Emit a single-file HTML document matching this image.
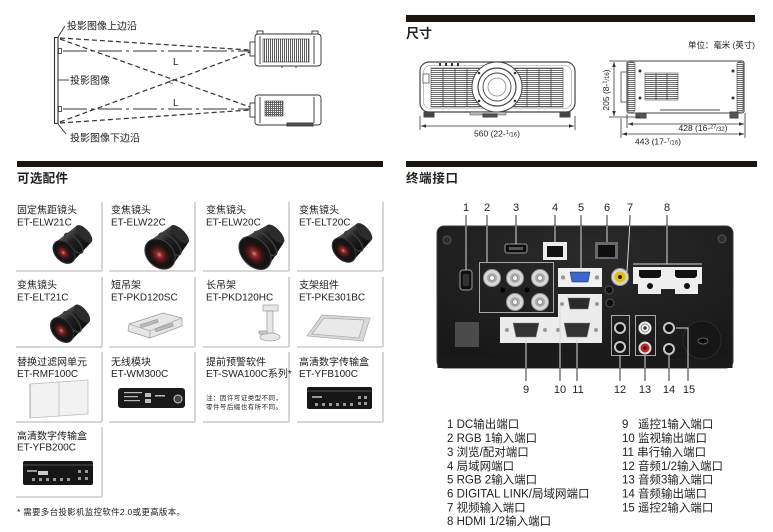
<!DOCTYPE html>
<html><head><meta charset="utf-8">
<style>
html,body{margin:0;padding:0;background:#fff;}
svg{display:block;}
text{font-family:"Liberation Sans","Noto Sans CJK SC",sans-serif;fill:#222;}
</style></head><body>
<svg width="773" height="532" viewBox="0 0 773 532" xmlns="http://www.w3.org/2000/svg">
<defs>
 <pattern id="hl" width="4" height="2" patternUnits="userSpaceOnUse"><rect width="4" height="2" fill="#fff"/><rect width="4" height="1" fill="#6a6a6a"/></pattern>
 <pattern id="vl" width="2" height="4" patternUnits="userSpaceOnUse"><rect width="2" height="4" fill="#fff"/><rect width="1" height="4" fill="#5a5a5a"/></pattern>
 <pattern id="grid" width="2" height="2" patternUnits="userSpaceOnUse"><rect width="2" height="2" fill="#fff"/><rect width="1" height="2" fill="#666"/><rect width="2" height="1" fill="#666"/></pattern>
 <radialGradient id="lensred" cx="0.5" cy="0.5" r="0.5"><stop offset="0" stop-color="#e08080"/><stop offset="0.25" stop-color="#8a2a2a"/><stop offset="0.65" stop-color="#3a1414"/><stop offset="1" stop-color="#121212"/></radialGradient>
 <linearGradient id="barrel" x1="0" y1="0" x2="0" y2="1"><stop offset="0" stop-color="#555"/><stop offset="0.35" stop-color="#222"/><stop offset="1" stop-color="#0c0c0c"/></linearGradient>
 <radialGradient id="panelg" cx="0.5" cy="0.2" r="0.8"><stop offset="0" stop-color="#2a2a2a"/><stop offset="1" stop-color="#181818"/></radialGradient>
</defs>

<!-- ================= LEFT THROW DIAGRAM ================= -->
<g stroke="#333" fill="none">
 <rect x="54.5" y="37.5" width="3.5" height="86" stroke-width="1.1" fill="#fff"/>
 <line x1="58" y1="37" x2="65" y2="26" stroke-width="0.9"/>
 <line x1="58" y1="80" x2="69" y2="80" stroke-width="0.9"/>
 <line x1="58" y1="124" x2="66" y2="134" stroke-width="0.9"/>
 <!-- dashed rays -->
 <g stroke-dasharray="5 3" stroke-width="1.2">
  <line x1="60" y1="38" x2="250" y2="50"/>
  <line x1="60" y1="39" x2="250" y2="107"/>
  <line x1="60" y1="122" x2="250" y2="52"/>
  <line x1="60" y1="123" x2="250" y2="110"/>
 </g>
 <g stroke-dasharray="24 4 3 4" stroke-width="1">
  <line x1="63" y1="51" x2="250" y2="51"/>
  <line x1="63" y1="109" x2="250" y2="109"/>
 </g>
 <rect x="58.5" y="48.5" width="3" height="5" stroke-width="0.8"/>
 <rect x="58.5" y="106.5" width="3" height="5" stroke-width="0.8"/>
</g>
<text x="173" y="65" font-size="10">L</text>
<text x="173" y="106" font-size="10">L</text>
<text x="168" y="85" font-size="9">&lt;</text>
<text x="67" y="29.5" font-size="10" textLength="70">投影图像上边沿</text>
<text x="70" y="84" font-size="10" textLength="40">投影图像</text>
<text x="70" y="141.5" font-size="10" textLength="70">投影图像下边沿</text>

<!-- top projector -->
<g stroke="#333" stroke-width="0.9" fill="#fff">
 <rect x="255" y="34" width="66" height="32" rx="3"/>
 <rect x="250" y="42" width="5" height="14"/>
 <rect x="257" y="31" width="6" height="3"/>
 <rect x="312" y="31" width="6" height="3"/>
 <rect x="263" y="39" width="46" height="23" fill="url(#vl)" stroke-width="0.6"/>
 <line x1="260" y1="36" x2="260" y2="64"/>
 <line x1="314" y1="36" x2="314" y2="64"/>
 <line x1="282" y1="66" x2="282" y2="68"/><line x1="296" y1="66" x2="296" y2="68"/>
</g>
<!-- bottom projector -->
<g stroke="#333" stroke-width="0.9" fill="#fff">
 <rect x="255" y="95" width="66" height="30" rx="3"/>
 <rect x="250" y="103" width="5" height="14"/>
 <rect x="265" y="101" width="18" height="15" fill="url(#grid)" stroke-width="0.6"/>
 <line x1="260" y1="97" x2="260" y2="123"/>
 <line x1="314" y1="97" x2="314" y2="123"/>
 <rect x="287" y="123" width="26" height="3" fill="#555"/>
</g>

<!-- bars -->
<rect x="17" y="161" width="366" height="6" fill="#1a1411"/>
<rect x="406" y="15" width="349" height="7" fill="#1a1411"/>
<rect x="406" y="161" width="351" height="6" fill="#1a1411"/>

<!-- ================= SIZE SECTION ================= -->
<text x="406" y="38" font-size="13" font-weight="bold" textLength="26">尺寸</text>
<text x="688" y="48" font-size="8.5" textLength="67" fill="#333">单位：毫米 (英寸)</text>

<!-- front view -->
<g stroke="#444" fill="#fff">
 <rect x="420" y="62" width="155" height="50" rx="9" stroke-width="1.2"/>
 <rect x="423.5" y="65.5" width="148" height="43" rx="7" stroke="#999" stroke-width="0.6" fill="none"/>
 <rect x="431" y="68" width="132" height="39" fill="url(#hl)" stroke-width="0.6"/>
 <g stroke="#444" stroke-width="0.8">
  <line x1="443" y1="68" x2="443" y2="107"/><line x1="455" y1="68" x2="455" y2="107"/><line x1="467" y1="68" x2="467" y2="107"/><line x1="479" y1="68" x2="479" y2="107"/>
  <line x1="515" y1="68" x2="515" y2="107"/><line x1="527" y1="68" x2="527" y2="107"/><line x1="539" y1="68" x2="539" y2="107"/><line x1="551" y1="68" x2="551" y2="107"/>
 </g>
 <rect x="423" y="74" width="6" height="9" stroke-width="0.7"/>
 <circle cx="497" cy="87" r="25" stroke-width="1"/>
 <circle cx="497" cy="87" r="19" stroke-width="1.2"/>
 <circle cx="497" cy="87" r="14" stroke-width="0.9"/>
 <circle cx="497" cy="87" r="9" stroke="#888" stroke-width="0.8"/>
 <rect x="424" y="112" width="10" height="5" fill="#444"/>
 <rect x="560" y="112" width="10" height="5" fill="#444"/>
 <rect x="470" y="112" width="36" height="3" fill="#bbb" stroke-width="0.5"/>
 <rect x="483" y="114" width="14" height="3" fill="#555"/>
</g>
<g fill="#333"><rect x="439" y="63" width="2" height="3"/><rect x="445" y="63" width="2" height="3"/><rect x="451" y="63" width="2" height="3"/><rect x="457" y="63" width="2" height="3"/>
 <circle cx="479" cy="73" r="1.3"/><circle cx="515" cy="73" r="1.3"/><circle cx="479" cy="101" r="1.3"/><circle cx="515" cy="101" r="1.3"/></g>
<g stroke="#333" stroke-width="0.8">
 <line x1="420" y1="116" x2="420" y2="130"/><line x1="575" y1="116" x2="575" y2="130"/>
 <line x1="421" y1="126" x2="574" y2="126"/>
</g>
<path d="M421,126 l5,-1.8 v3.6z M574,126 l-5,-1.8 v3.6z" fill="#333"/>
<text x="497" y="136.5" font-size="8.5" text-anchor="middle" fill="#333">560 (22-<tspan font-size="5.5" dy="-2.5">1</tspan><tspan font-size="6" dy="2.5">/16</tspan>)</text>

<!-- side view -->
<g stroke="#444" fill="#fff">
 <rect x="621" y="72" width="6" height="30" stroke-width="0.8"/>
 <rect x="627" y="61" width="117" height="52" rx="2" stroke-width="1.1"/>
 <rect x="628" y="62" width="7" height="50" rx="2" fill="url(#hl)" stroke-width="0.6"/>
 <rect x="737" y="62" width="6" height="50" rx="2" fill="url(#hl)" stroke-width="0.6"/>
 <rect x="645" y="73" width="33" height="27" fill="url(#hl)" stroke-width="0.6"/>
 <line x1="656" y1="73" x2="656" y2="100" stroke-width="0.8"/><line x1="667" y1="73" x2="667" y2="100" stroke-width="0.8"/>
 <rect x="636" y="113" width="10" height="5" fill="#555"/>
 <rect x="730" y="112" width="8" height="6" fill="#555"/>
 <line x1="660" y1="110" x2="720" y2="110" stroke="#888" stroke-width="1.5"/>
</g>
<g fill="#333"><circle cx="640" cy="71" r="1.5"/><circle cx="640" cy="98" r="1.5"/><circle cx="733" cy="71" r="1.5"/><circle cx="733" cy="98" r="1.5"/></g>
<g stroke="#333" stroke-width="0.8">
 <line x1="609" y1="61" x2="627" y2="61"/><line x1="609" y1="117" x2="640" y2="117"/>
 <line x1="614" y1="62" x2="614" y2="116"/>
 <line x1="627" y1="114" x2="627" y2="128"/><line x1="745" y1="113" x2="745" y2="138"/>
 <line x1="621" y1="118" x2="621" y2="138"/>
 <line x1="628" y1="124" x2="744" y2="124"/>
 <line x1="622" y1="134" x2="744" y2="134"/>
</g>
<path d="M614,62 l-1.8,5 h3.6z M614,116 l-1.8,-5 h3.6z M628,124 l5,-1.8 v3.6z M744,124 l-5,-1.8 v3.6z M622,134 l5,-1.8 v3.6z M744,134 l-5,-1.8 v3.6z" fill="#333"/>
<text x="0" y="0" font-size="8.5" text-anchor="middle" fill="#333" transform="translate(609,90) rotate(-90)">205 (8-<tspan font-size="5.5" dy="-2.5">1</tspan><tspan font-size="6" dy="2.5">/16</tspan>)</text>
<text x="703" y="131" font-size="8.5" text-anchor="middle" fill="#333">428 (16-<tspan font-size="5.5" dy="-2.5">27</tspan><tspan font-size="6" dy="2.5">/32</tspan>)</text>
<text x="658" y="144.5" font-size="8.5" text-anchor="middle" fill="#333">443 (17-<tspan font-size="5.5" dy="-2.5">7</tspan><tspan font-size="6" dy="2.5">/16</tspan>)</text>

<!-- ================= ACCESSORIES ================= -->
<text x="17" y="182.6" font-size="12.5" font-weight="bold" textLength="51">可选配件</text>

<g stroke="#cbcbcb" stroke-width="1.6">
 <line x1="102" y1="202" x2="102" y2="271"/><line x1="195" y1="202" x2="195" y2="271"/><line x1="289" y1="202" x2="289" y2="271"/><line x1="383" y1="202" x2="383" y2="271"/>
 <line x1="16" y1="271" x2="102" y2="271"/><line x1="109" y1="271" x2="195" y2="271"/><line x1="203" y1="271" x2="289" y2="271"/><line x1="297" y1="271" x2="383" y2="271"/>
 <line x1="102" y1="277" x2="102" y2="347"/><line x1="195" y1="277" x2="195" y2="347"/><line x1="289" y1="277" x2="289" y2="347"/><line x1="383" y1="277" x2="383" y2="347"/>
 <line x1="16" y1="347" x2="102" y2="347"/><line x1="109" y1="347" x2="195" y2="347"/><line x1="203" y1="347" x2="289" y2="347"/><line x1="297" y1="347" x2="383" y2="347"/>
 <line x1="102" y1="352" x2="102" y2="422"/><line x1="195" y1="352" x2="195" y2="422"/><line x1="289" y1="352" x2="289" y2="422"/><line x1="383" y1="352" x2="383" y2="422"/>
 <line x1="16" y1="422" x2="102" y2="422"/><line x1="109" y1="422" x2="195" y2="422"/><line x1="203" y1="422" x2="289" y2="422"/><line x1="297" y1="422" x2="383" y2="422"/>
 <line x1="102" y1="427" x2="102" y2="497"/>
 <line x1="16" y1="497" x2="102" y2="497"/>
</g>

<g font-size="10">
 <text x="17" y="213.7">固定焦距镜头</text><text x="17" y="225.7">ET-ELW21C</text>
 <text x="111" y="213.7">变焦镜头</text><text x="111" y="225.7">ET-ELW22C</text>
 <text x="206" y="213.7">变焦镜头</text><text x="206" y="225.7">ET-ELW20C</text>
 <text x="299" y="213.7">变焦镜头</text><text x="299" y="225.7">ET-ELT20C</text>
 <text x="17" y="288.7">变焦镜头</text><text x="17" y="300.7">ET-ELT21C</text>
 <text x="111" y="288.7">短吊架</text><text x="111" y="300.7">ET-PKD120SC</text>
 <text x="206" y="288.7">长吊架</text><text x="206" y="300.7">ET-PKD120HC</text>
 <text x="299" y="288.7">支架组件</text><text x="299" y="300.7">ET-PKE301BC</text>
 <text x="17" y="365.7">替换过滤网单元</text><text x="17" y="377.2">ET-RMF100C</text>
 <text x="111" y="365.7">无线模块</text><text x="111" y="377.2">ET-WM300C</text>
 <text x="206" y="365.7">提前预警软件</text><text x="206" y="377.2">ET-SWA100C系列*</text>
 <text x="299" y="365.7">高清数字传输盒</text><text x="299" y="377.2">ET-YFB100C</text>
 <text x="17" y="439.7">高清数字传输盒</text><text x="17" y="450.7">ET-YFB200C</text>
</g>
<text x="206" y="400" font-size="6.5" fill="#555" textLength="76">注：因许可证类型不同，</text>
<text x="206" y="409" font-size="6.5" fill="#555" textLength="76">零件号后缀也有所不同。</text>
<text x="17" y="515" font-size="8.5" fill="#333" textLength="168">* 需要多台投影机监控软件2.0或更高版本。</text>

<!-- lenses -->
<g transform="translate(64,252) rotate(-42)">
 <path d="M0,-13 L27,-11 L27,11 L0,13 Z" fill="url(#barrel)"/>
 <ellipse cx="27" cy="0" rx="5" ry="11" fill="#2c2c2c"/>
 <ellipse cx="13" cy="0" rx="5" ry="12.5" fill="none" stroke="#3c3c3c" stroke-width="1.5"/>
 <ellipse cx="0" cy="0" rx="9" ry="13" fill="#151515" stroke="#333"/>
 <ellipse cx="-1" cy="0" rx="6.5" ry="9.5" fill="url(#lensred)"/>
</g>
<g transform="translate(160,254) rotate(-45)">
 <path d="M0,-17 L28,-12 L28,12 L0,17 Z" fill="url(#barrel)"/>
 <ellipse cx="28" cy="0" rx="5" ry="12" fill="#2c2c2c"/>
 <ellipse cx="14" cy="0" rx="6" ry="14.5" fill="none" stroke="#3c3c3c" stroke-width="1.5"/>
 <ellipse cx="0" cy="0" rx="13" ry="17" fill="#151515" stroke="#444"/>
 <ellipse cx="-1" cy="0" rx="10" ry="13" fill="url(#lensred)"/>
</g>
<g transform="translate(255,253) rotate(-43)">
 <path d="M0,-19 L28,-12 L28,12 L0,19 Z" fill="url(#barrel)"/>
 <ellipse cx="28" cy="0" rx="5" ry="12" fill="#2c2c2c"/>
 <ellipse cx="14" cy="0" rx="6" ry="15.5" fill="none" stroke="#3c3c3c" stroke-width="1.5"/>
 <ellipse cx="0" cy="0" rx="13" ry="19" fill="#151515" stroke="#444"/>
 <ellipse cx="-1" cy="0" rx="10" ry="14" fill="url(#lensred)"/>
</g>
<g transform="translate(344,250) rotate(-42)">
 <path d="M0,-14 L27,-11 L27,11 L0,14 Z" fill="url(#barrel)"/>
 <ellipse cx="27" cy="0" rx="5" ry="11" fill="#2c2c2c"/>
 <ellipse cx="13" cy="0" rx="5" ry="12.5" fill="none" stroke="#3c3c3c" stroke-width="1.5"/>
 <ellipse cx="0" cy="0" rx="9.5" ry="14" fill="#151515" stroke="#333"/>
 <ellipse cx="-1" cy="0" rx="7" ry="10" fill="url(#lensred)"/>
</g>
<g transform="translate(62,330) rotate(-39)">
 <path d="M0,-14 L26,-11 L26,11 L0,14 Z" fill="url(#barrel)"/>
 <ellipse cx="26" cy="0" rx="5" ry="11" fill="#2c2c2c"/>
 <ellipse cx="13" cy="0" rx="5" ry="12.5" fill="none" stroke="#3c3c3c" stroke-width="1.5"/>
 <ellipse cx="0" cy="0" rx="9.5" ry="14" fill="#151515" stroke="#333"/>
 <ellipse cx="-1" cy="0" rx="7" ry="10" fill="url(#lensred)"/>
</g>
<rect x="40" y="346" width="60" height="10" fill="#fff"/>
<line x1="16" y1="347" x2="102" y2="347" stroke="#cbcbcb" stroke-width="1.6"/>

<!-- short mount -->
<g stroke="#999" stroke-width="0.7">
 <path d="M129,324 L163,313 L182,318 L182,326 L150,338 L128,331 Z" fill="#e6e6e6"/>
 <path d="M129,324 L150,331 L182,318" fill="none" stroke="#aaa"/>
 <path d="M150,331 L150,338" fill="none"/>
 <rect x="140" y="322" width="18" height="3" fill="#bbb" transform="rotate(-18 149 323)"/>
 <rect x="155" y="326" width="18" height="3" fill="#bbb" transform="rotate(-18 164 327)"/>
</g>
<!-- long mount -->
<g stroke="#999" stroke-width="0.7" fill="#e8e8e8">
 <rect x="263" y="305" width="15" height="6"/>
 <rect x="267" y="311" width="6" height="24"/>
 <ellipse cx="270" cy="337" rx="10" ry="4"/>
 <rect x="259" y="331" width="8" height="3" fill="#ccc"/>
</g>
<!-- bracket plate -->
<g stroke="#aaa" stroke-width="0.7">
 <path d="M307,336 L322,315 L370,318 L363,341 Z" fill="#d9d9d9"/>
 <path d="M312,334 L324,318 L364,320 L359,338 Z" fill="#e9e9e9"/>
</g>
<!-- filter -->
<g stroke="#bbb" stroke-width="0.8">
 <path d="M30,384 L88,380 L88,414 L30,418 Z" fill="#f2f2f2"/>
 <line x1="59" y1="382" x2="59" y2="416"/>
 <path d="M30,384 L30,418" stroke="#999"/>
</g>
<!-- wireless module -->
<rect x="118" y="388" width="67" height="20" rx="3" fill="#1a1a1a"/>
<g fill="#bbb"><rect x="124" y="392" width="18" height="1.2"/><rect x="124" y="396" width="14" height="1.2"/><rect x="124" y="400" width="16" height="1.2"/><rect x="145" y="393" width="6" height="4"/><rect x="145" y="399" width="6" height="4"/><rect x="155" y="395" width="10" height="1.5"/></g>
<circle cx="178" cy="399" r="4" fill="#444" stroke="#ccc" stroke-width="1"/>
<!-- YFB100C -->
<rect x="307" y="387" width="65" height="22" rx="2" fill="#161616"/>
<rect x="307" y="390" width="65" height="2" fill="#333"/>
<g fill="#999"><rect x="312" y="396" width="10" height="2"/><rect x="315" y="403" width="3" height="3"/><rect x="322" y="403" width="3" height="3"/><rect x="329" y="403" width="3" height="3"/><rect x="336" y="403" width="3" height="3"/><rect x="343" y="403" width="3" height="3"/><rect x="350" y="403" width="3" height="3"/><rect x="358" y="396" width="3" height="3"/><rect x="364" y="396" width="3" height="3"/><rect x="358" y="402" width="3" height="3"/><rect x="364" y="402" width="3" height="3"/></g>
<!-- YFB200C -->
<rect x="23" y="461" width="70" height="24" rx="2" fill="#161616"/>
<rect x="23" y="464" width="70" height="2" fill="#333"/>
<g fill="#999"><rect x="27" y="470" width="10" height="2"/><rect x="38" y="471" width="10" height="4" fill="#ccc"/><rect x="32" y="478" width="3" height="3"/><rect x="39" y="478" width="3" height="3"/><rect x="46" y="478" width="3" height="3"/><rect x="53" y="478" width="3" height="3"/><rect x="60" y="478" width="3" height="3"/><rect x="67" y="478" width="3" height="3"/><rect x="78" y="470" width="3" height="3"/><rect x="85" y="470" width="3" height="3"/><rect x="78" y="477" width="3" height="3"/><rect x="85" y="477" width="3" height="3"/></g>

<!-- ================= TERMINALS ================= -->
<text x="406" y="182.6" font-size="12.5" font-weight="bold" textLength="52">终端接口</text>

<rect x="437" y="226" width="296" height="142" rx="7" fill="url(#panelg)" stroke="#3a3a3a" stroke-width="1"/>
<rect x="437.5" y="358" width="295" height="10" fill="#1a1a1a"/>
<circle cx="447" cy="240" r="4" fill="#2e2e2e" stroke="#555"/>
<circle cx="722" cy="239" r="4" fill="#2e2e2e" stroke="#555"/>

<!-- port 1 -->
<rect x="460" y="270" width="12" height="20" rx="3" fill="#111" stroke="#888" stroke-width="1.2"/>
<rect x="463" y="274" width="6" height="12" rx="1" fill="#333"/>
<!-- BNC box -->
<rect x="479.5" y="262.5" width="74" height="50" fill="none" stroke="#a8a8a8" stroke-width="1"/>
<g>
 <circle cx="492" cy="278" r="8.5" fill="#d8d8d8" stroke="#999"/><circle cx="492" cy="278" r="5" fill="#aaa"/><circle cx="492" cy="278" r="2.5" fill="#f4f4f4" stroke="#777" stroke-width="0.6"/>
 <circle cx="515" cy="278" r="8.5" fill="#d8d8d8" stroke="#999"/><circle cx="515" cy="278" r="5" fill="#aaa"/><circle cx="515" cy="278" r="2.5" fill="#f4f4f4" stroke="#777" stroke-width="0.6"/>
 <circle cx="540" cy="278" r="8.5" fill="#d8d8d8" stroke="#999"/><circle cx="540" cy="278" r="5" fill="#aaa"/><circle cx="540" cy="278" r="2.5" fill="#f4f4f4" stroke="#777" stroke-width="0.6"/>
 <circle cx="515" cy="302" r="8.5" fill="#d8d8d8" stroke="#999"/><circle cx="515" cy="302" r="5" fill="#aaa"/><circle cx="515" cy="302" r="2.5" fill="#f4f4f4" stroke="#777" stroke-width="0.6"/>
 <circle cx="540" cy="302" r="8.5" fill="#d8d8d8" stroke="#999"/><circle cx="540" cy="302" r="5" fill="#aaa"/><circle cx="540" cy="302" r="2.5" fill="#f4f4f4" stroke="#777" stroke-width="0.6"/>
 <circle cx="503" cy="290" r="2.5" fill="#000"/><circle cx="527" cy="290" r="2.5" fill="#000"/>
</g>
<!-- USB 3 -->
<rect x="505" y="244" width="22" height="9" rx="2" fill="#0d0d0d" stroke="#999"/>
<rect x="509" y="247" width="14" height="3" fill="#555"/>
<!-- LAN 4 -->
<rect x="543" y="242" width="24" height="18" fill="#ececec"/>
<rect x="547" y="246" width="16" height="11" fill="#111"/>
<!-- VGA 5 -->
<rect x="558" y="268" width="44" height="19" fill="#f0f0f0"/>
<path d="M570,272 H590 L588,282 H572 Z" fill="#3b66cf" stroke="#224" stroke-width="0.5"/>
<circle cx="563" cy="277.5" r="2.2" fill="#999"/><circle cx="597" cy="277.5" r="2.2" fill="#999"/>
<!-- LAN 6 -->
<rect x="595" y="242" width="23" height="17" fill="#6a6a6a"/>
<rect x="598" y="245" width="17" height="12" fill="#0e0e0e"/>
<!-- video 7 -->
<circle cx="620" cy="277" r="8.5" fill="#d6d6d6" stroke="#999"/>
<circle cx="620" cy="277" r="5.5" fill="#e6c000"/>
<circle cx="620" cy="277" r="2" fill="#222"/>
<circle cx="609" cy="290" r="4" fill="#0e0e0e" stroke="#555"/>
<circle cx="610" cy="303" r="4" fill="#0e0e0e" stroke="#555"/>
<!-- HDMI plate 8 -->
<path d="M633,267 H702 V284 H698 V294 H675 V289 H661 V294 H638 V284 H633 Z" fill="#eeeeee"/>
<path d="M639,270 H661 V276 L659,278 H641 L639,276 Z" fill="#111"/>
<path d="M675,270 H697 V276 L695,278 H677 L675,276 Z" fill="#111"/>
<circle cx="650" cy="286" r="3" fill="#111"/><circle cx="687" cy="286" r="3" fill="#111"/>
<!-- monitor out plate 10 & serial plate -->
<rect x="558" y="294" width="44" height="24" fill="#ececec"/>
<path d="M568,298 H590 L588,309 H570 Z" fill="#2a2a2a" stroke="#777" stroke-width="0.6"/>
<circle cx="562" cy="304" r="2" fill="#999"/><circle cx="597" cy="304" r="2" fill="#999"/>
<rect x="500" y="317" width="102" height="26" fill="#ececec"/>
<path d="M513,323 H539 L536,337 H516 Z" fill="#333" stroke="#888" stroke-width="0.6"/>
<path d="M564,323 H590 L587,337 H567 Z" fill="#333" stroke="#888" stroke-width="0.6"/>
<circle cx="507" cy="330" r="2" fill="#999"/><circle cx="545" cy="330" r="2" fill="#999"/>
<circle cx="558" cy="330" r="2" fill="#999"/><circle cx="596" cy="330" r="2" fill="#999"/>
<!-- gray square -->
<rect x="455" y="322" width="24" height="25" fill="#4b4b4b"/>
<!-- audio 12 -->
<rect x="611.5" y="315.5" width="18" height="40" fill="none" stroke="#aaa"/>
<circle cx="620" cy="328" r="6" fill="#c8c8c8"/><circle cx="620" cy="328" r="4" fill="#111"/>
<circle cx="620" cy="347" r="6" fill="#c8c8c8"/><circle cx="620" cy="347" r="4" fill="#111"/>
<!-- audio 13 -->
<rect x="635.5" y="315.5" width="20" height="40" fill="none" stroke="#aaa"/>
<circle cx="645" cy="328" r="6.5" fill="#eee"/><circle cx="645" cy="328" r="4" fill="#fff" stroke="#888"/><circle cx="645" cy="328" r="1.8" fill="#333"/>
<circle cx="645" cy="348" r="6.5" fill="#ddd"/><circle cx="645" cy="348" r="4.5" fill="#cc2020"/><circle cx="645" cy="348" r="1.8" fill="#222"/>
<!-- 14/15 -->
<circle cx="669" cy="328" r="6" fill="#c8c8c8"/><circle cx="669" cy="328" r="4" fill="#111"/>
<circle cx="669" cy="349" r="6" fill="#c8c8c8"/><circle cx="669" cy="349" r="4" fill="#111"/>
<circle cx="702" cy="340" r="19" fill="#161616" stroke="#2c2c2c"/>
<ellipse cx="703" cy="341" rx="5" ry="3" fill="#000" stroke="#777" stroke-width="0.8"/>

<!-- leaders outside (dark) -->
<g stroke="#333" stroke-width="1">
 <line x1="466" y1="215" x2="466" y2="226"/><line x1="487" y1="215" x2="487" y2="226"/><line x1="516" y1="215" x2="516" y2="226"/>
 <line x1="555" y1="215" x2="555" y2="226"/><line x1="581" y1="215" x2="581" y2="226"/><line x1="607" y1="215" x2="607" y2="226"/>
 <line x1="630" y1="215" x2="629.7" y2="226"/><line x1="667" y1="215" x2="667" y2="226"/>
 <line x1="526" y1="368" x2="526" y2="381"/><line x1="560" y1="368" x2="560" y2="381"/><line x1="577" y1="368" x2="577" y2="381"/>
 <line x1="620" y1="368" x2="620" y2="381"/><line x1="645" y1="368" x2="645" y2="381"/><line x1="669" y1="368" x2="669" y2="381"/><line x1="688" y1="368" x2="688" y2="381"/>
</g>
<!-- leaders inside (light) -->
<g stroke="#d8d8d8" stroke-width="1" fill="none">
 <line x1="466" y1="226" x2="466" y2="270"/><line x1="487" y1="226" x2="487" y2="262"/><line x1="516" y1="226" x2="516" y2="244"/>
 <line x1="555" y1="226" x2="555" y2="242"/><line x1="581" y1="226" x2="581" y2="268"/><line x1="607" y1="226" x2="607" y2="242"/>
 <line x1="629.7" y1="226" x2="627" y2="272"/><line x1="667" y1="226" x2="667" y2="264"/><line x1="633" y1="264" x2="702" y2="264"/>
 <line x1="526" y1="337" x2="526" y2="368"/><line x1="560" y1="306" x2="560" y2="368"/><line x1="577" y1="337" x2="577" y2="368"/>
 <line x1="620" y1="356" x2="620" y2="368"/><line x1="645" y1="356" x2="645" y2="368"/><line x1="669" y1="355" x2="669" y2="368"/>
 <polyline points="676,328 688,328 688,368"/>
</g>
<g font-size="11" text-anchor="middle">
 <text x="466" y="211">1</text><text x="487" y="211">2</text><text x="516" y="211">3</text><text x="555" y="211">4</text>
 <text x="581" y="211">5</text><text x="607" y="211">6</text><text x="630" y="211">7</text><text x="667" y="211">8</text>
 <text x="526" y="393">9</text><text x="560" y="393">10</text><text x="578" y="393">11</text><text x="620" y="393">12</text>
 <text x="645" y="393">13</text><text x="669" y="393">14</text><text x="689" y="393">15</text>
</g>

<!-- legend -->
<g font-size="11.5" fill="#222">
 <text x="447" y="428.2">1 DC输出端口</text>
 <text x="447" y="442.1">2 RGB 1输入端口</text>
 <text x="447" y="455.9">3 浏览/配对端口</text>
 <text x="447" y="469.8">4 局域网端口</text>
 <text x="447" y="483.6">5 RGB 2输入端口</text>
 <text x="447" y="497.5">6 DIGITAL LINK/局域网端口</text>
 <text x="447" y="511.3">7 视频输入端口</text>
 <text x="447" y="525.2">8 HDMI 1/2输入端口</text>
 <text x="622" y="428.2">9<tspan x="638">遥控1输入端口</tspan></text>
 <text x="622" y="442.1">10 监视输出端口</text>
 <text x="622" y="455.9">11 串行输入端口</text>
 <text x="622" y="469.8">12 音频1/2输入端口</text>
 <text x="622" y="483.6">13 音频3输入端口</text>
 <text x="622" y="497.5">14 音频输出端口</text>
 <text x="622" y="511.3">15 遥控2输入端口</text>
</g>
</svg>
</body></html>
